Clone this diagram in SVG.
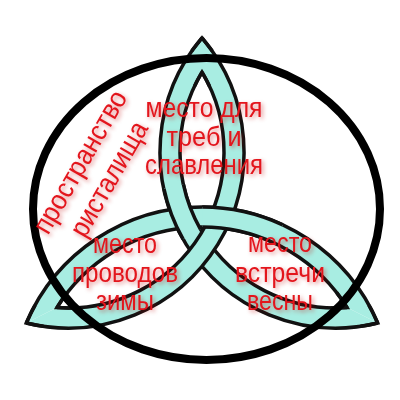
<svg xmlns="http://www.w3.org/2000/svg" width="400" height="400" viewBox="0 0 400 400">
<defs>
<style>
.band{fill:#a8ede2;stroke:none}
.edge{fill:none;stroke:#111;stroke-width:3.5;stroke-linejoin:miter;stroke-miterlimit:10}
.ring{fill:none;stroke:#000;stroke-width:8}
.lbl{font-family:"Liberation Sans",Arial,sans-serif;font-size:28px;fill:#e3141c;text-anchor:middle}
</style>
<filter id="sh" x="-20%" y="-30%" width="140%" height="170%">
<feGaussianBlur in="SourceAlpha" stdDeviation="2"/>
<feOffset dx="2" dy="2" result="b"/>
<feFlood flood-color="#c00000" flood-opacity="0.45"/>
<feComposite in2="b" operator="in"/>
<feMerge><feMergeNode/><feMergeNode in="SourceGraphic"/></feMerge>
</filter>
</defs>
<rect width="400" height="400" fill="#fff"/>
<g id="knot">
 <g id="strand1">
  <path class="band" d="M202,37.9 A176,176 0 0 0 377.7,323 L347.1,307.6 A156,156 0 0 1 202,72.1 Z"/>
  <path class="edge" d="M202,37.9 A176,176 0 0 0 377.7,323 M202,72.1 A156,156 0 0 0 347.1,307.6"/>
 </g>
 <g id="strand2">
  <path class="band" d="M26.3,323 A191,191 0 0 1 377.7,323 L347.1,307.6 A171,171 0 0 0 56.9,307.6 Z"/>
  <path class="edge" d="M26.3,323 A191,191 0 0 1 377.7,323 M56.9,307.6 A171,171 0 0 1 347.1,307.6"/>
 </g>
 <g id="strand3">
  <path class="band" d="M202,37.9 A176,176 0 0 1 26.3,323 L56.9,307.6 A156,156 0 0 0 202,72.1 Z"/>
  <path class="edge" d="M202,37.9 A176,176 0 0 1 26.3,323 M202,72.1 A156,156 0 0 1 56.9,307.6"/>
 </g>
 <g id="over12">
  <path class="band" d="M183.1,239.2 A176,176 0 0 1 163.9,188.6 L183.4,184.4 A156,156 0 0 0 200.5,229.3 Z"/>
  <path class="edge" d="M183.1,239.2 A176,176 0 0 1 163.9,188.6 M200.5,229.3 A156,156 0 0 1 183.4,184.4"/>
 </g>
 <g id="over23">
  <path class="band" d="M202.3,207 A191,191 0 0 1 282.7,224.9 L274.3,243 A171,171 0 0 0 202.3,227 Z"/>
  <path class="edge" d="M202.3,207 A191,191 0 0 1 282.7,224.9 M202.3,227 A171,171 0 0 1 274.3,243"/>
 </g>
 <g id="tips">
  <path class="edge" d="M191.8,51.1 A176,176 0 0 1 202,37.9 A176,176 0 0 1 212.2,51.1"/>
  <path class="edge" d="M194.6,86.1 A156,156 0 0 1 202,72.1 A156,156 0 0 1 209.4,86.1"/>
  <path class="edge" d="M360.5,326.3 A176,176 0 0 0 377.7,323 A191,191 0 0 0 369,305.4"/>
  <path class="edge" d="M330.6,307.9 A156,156 0 0 0 347.1,307.6 A171,171 0 0 0 336.7,292.7"/>
  <path class="edge" d="M43.5,326.3 A176,176 0 0 1 26.3,323 A191,191 0 0 1 35,305.4"/>
  <path class="edge" d="M73.4,307.9 A156,156 0 0 1 56.9,307.6 A171,171 0 0 1 67.3,292.7"/>
 </g>
</g>
<g id="circle">
 <ellipse class="ring" cx="206.5" cy="209" rx="173.5" ry="151"/>
</g>
<g id="labels" filter="url(#sh)">
 <g id="label-top">
  <text class="lbl" x="204" y="117" textLength="117" lengthAdjust="spacingAndGlyphs">место для</text>
  <text class="lbl" x="204" y="146" textLength="75" lengthAdjust="spacingAndGlyphs">треб и</text>
  <text class="lbl" x="204" y="174" textLength="118" lengthAdjust="spacingAndGlyphs">славления</text>
 </g>
 <g id="label-left">
  <text class="lbl" x="125" y="253" textLength="64" lengthAdjust="spacingAndGlyphs">место</text>
  <text class="lbl" x="125" y="282" textLength="106" lengthAdjust="spacingAndGlyphs">проводов</text>
  <text class="lbl" x="125" y="310" textLength="58" lengthAdjust="spacingAndGlyphs">зимы</text>
 </g>
 <g id="label-right">
  <text class="lbl" x="280" y="252" textLength="64" lengthAdjust="spacingAndGlyphs">место</text>
  <text class="lbl" x="280" y="282" textLength="90" lengthAdjust="spacingAndGlyphs">встречи</text>
  <text class="lbl" x="280" y="310" textLength="66" lengthAdjust="spacingAndGlyphs">весны</text>
 </g>
 <g id="label-rotated">
  <text class="lbl" transform="translate(88,166.5) rotate(-60)" x="0" y="0" textLength="160" lengthAdjust="spacingAndGlyphs">пространство</text>
  <text class="lbl" transform="translate(117,183.5) rotate(-60)" x="0" y="0" textLength="128" lengthAdjust="spacingAndGlyphs">ристалища</text>
 </g>
</g>
</svg>
